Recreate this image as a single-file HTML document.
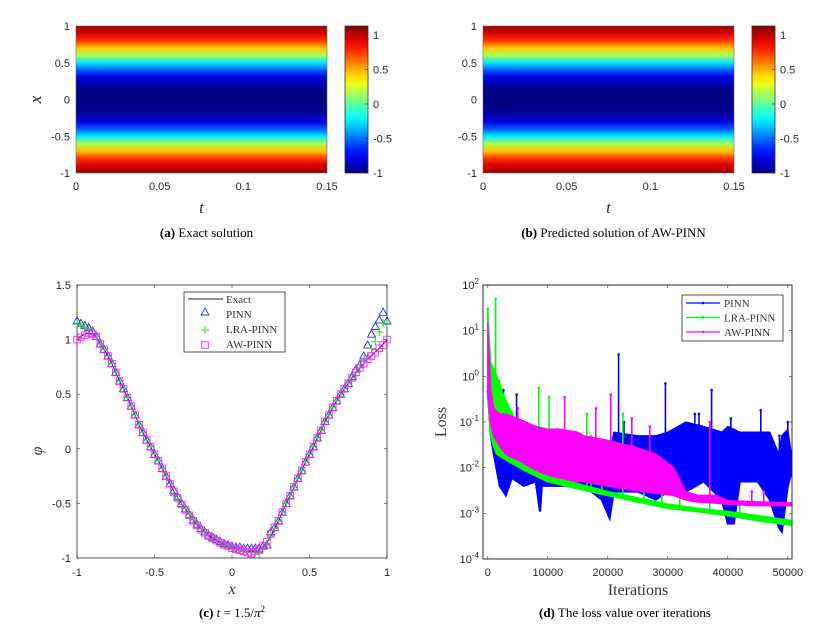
<!DOCTYPE html>
<html><head><meta charset="utf-8"><style>
html,body{margin:0;padding:0;background:#fff;}
svg{display:block;font-family:"Liberation Sans",sans-serif;}
.tk{font-size:11px;fill:#262626;}
.cap{font-family:"Liberation Serif",serif;font-size:13px;fill:#000;}
.lab{font-family:"Liberation Serif",serif;font-style:italic;fill:#333;}
.leg{font-family:"Liberation Serif",serif;font-size:11px;fill:#333;}
</style></head><body>
<svg id="fig" width="822" height="625" viewBox="0 0 822 625" xmlns="http://www.w3.org/2000/svg">
<defs id="defs"></defs>
</svg>
<script>
// ---------- data: heatmaps (a),(b) ----------
const heatX = [-1,-0.9,-0.8,-0.7,-0.6,-0.5,-0.4,-0.3,-0.2,-0.1,0,0.1,0.2,0.3,0.4,0.5,0.6,0.7,0.8,0.9,1];
const heatExact = [1.08,0.95,0.75,0.45,0.15,-0.25,-0.55,-0.8,-0.92,-0.98,-1.0,-0.98,-0.92,-0.8,-0.55,-0.25,0.15,0.45,0.75,0.95,1.08];
const heatPred  = [1.08,0.95,0.75,0.45,0.15,-0.25,-0.55,-0.8,-0.92,-0.98,-1.0,-0.98,-0.92,-0.8,-0.55,-0.25,0.15,0.45,0.75,0.95,1.08];
const tTicks = [0,0.05,0.1,0.15];
const tTickLabels = ["0","0.05","0.1","0.15"];
const xTicks = [-1,-0.5,0,0.5,1];
const xTickLabels = ["-1","-0.5","0","0.5","1"];
const cbTicks = [-1,-0.5,0,0.5,1];
const cbTickLabels = ["-1","-0.5","0","0.5","1"];

// ---------- data: panel (c) ----------
const cX = [-1,-0.975,-0.95,-0.925,-0.9,-0.875,-0.85,-0.825,-0.8,-0.775,-0.75,-0.725,-0.7,-0.675,-0.65,-0.625,-0.6,-0.575,-0.55,-0.525,-0.5,-0.475,-0.45,-0.425,-0.4,-0.375,-0.35,-0.325,-0.3,-0.275,-0.25,-0.225,-0.2,-0.175,-0.15,-0.125,-0.1,-0.075,-0.05,-0.025,0,0.025,0.05,0.075,0.1,0.125,0.15,0.175,0.2,0.225,0.25,0.275,0.3,0.325,0.35,0.375,0.4,0.425,0.45,0.475,0.5,0.525,0.55,0.575,0.6,0.625,0.65,0.675,0.7,0.725,0.75,0.775,0.8,0.825,0.85,0.875,0.9,0.925,0.95,0.975,1];
const exactY = [1.0,1.03,1.05,1.06,1.05,1.02,0.96,0.91,0.85,0.78,0.70,0.62,0.55,0.47,0.39,0.31,0.22,0.15,0.08,0.02,-0.05,-0.11,-0.18,-0.25,-0.32,-0.39,-0.45,-0.50,-0.55,-0.60,-0.65,-0.69,-0.73,-0.76,-0.79,-0.82,-0.84,-0.86,-0.88,-0.89,-0.90,-0.91,-0.92,-0.93,-0.94,-0.94,-0.94,-0.93,-0.90,-0.86,-0.80,-0.73,-0.66,-0.58,-0.50,-0.43,-0.35,-0.27,-0.20,-0.12,-0.05,0.02,0.10,0.17,0.25,0.31,0.38,0.44,0.50,0.55,0.60,0.65,0.70,0.74,0.78,0.82,0.85,0.89,0.92,0.96,1.0];
const pinnY = [1.17,1.15,1.13,1.11,1.08,1.03,0.96,0.91,0.85,0.78,0.70,0.62,0.55,0.47,0.39,0.31,0.22,0.15,0.08,0.02,-0.05,-0.11,-0.18,-0.25,-0.32,-0.38,-0.44,-0.50,-0.55,-0.60,-0.65,-0.69,-0.73,-0.76,-0.79,-0.81,-0.83,-0.85,-0.87,-0.88,-0.89,-0.90,-0.90,-0.91,-0.91,-0.91,-0.91,-0.91,-0.89,-0.88,-0.76,-0.72,-0.66,-0.58,-0.50,-0.43,-0.35,-0.27,-0.20,-0.12,-0.05,0.02,0.10,0.17,0.25,0.31,0.38,0.44,0.50,0.55,0.60,0.66,0.73,0.77,0.85,0.95,1.05,1.12,1.18,1.25,1.17];
const lraY = [1.15,1.13,1.11,1.10,1.08,1.03,0.96,0.91,0.85,0.78,0.70,0.62,0.55,0.47,0.39,0.31,0.22,0.15,0.08,0.02,-0.05,-0.11,-0.18,-0.25,-0.32,-0.43,-0.46,-0.51,-0.55,-0.60,-0.65,-0.69,-0.73,-0.76,-0.79,-0.82,-0.84,-0.86,-0.88,-0.89,-0.90,-0.92,-0.93,-0.94,-0.95,-0.95,-0.95,-0.96,-0.92,-0.87,-0.80,-0.73,-0.66,-0.58,-0.50,-0.43,-0.35,-0.27,-0.20,-0.12,-0.05,0.02,0.10,0.17,0.25,0.31,0.38,0.44,0.50,0.55,0.60,0.65,0.67,0.74,0.80,0.85,0.92,0.98,1.07,1.15,1.15];
const awY = [1.0,1.02,1.04,1.06,1.05,1.03,0.96,0.91,0.85,0.78,0.70,0.62,0.55,0.47,0.39,0.31,0.22,0.15,0.08,0.02,-0.05,-0.11,-0.18,-0.25,-0.32,-0.39,-0.45,-0.51,-0.56,-0.61,-0.66,-0.70,-0.74,-0.77,-0.80,-0.82,-0.84,-0.86,-0.88,-0.89,-0.91,-0.92,-0.93,-0.94,-0.95,-0.96,-0.94,-0.92,-0.89,-0.85,-0.78,-0.72,-0.66,-0.58,-0.50,-0.43,-0.35,-0.27,-0.20,-0.12,-0.05,0.02,0.10,0.17,0.25,0.31,0.38,0.44,0.50,0.55,0.60,0.65,0.70,0.74,0.78,0.82,0.85,0.88,0.92,0.95,1.0];
const cYTicks = [-1,-0.5,0,0.5,1,1.5];
const cYTickLabels = ["-1","-0.5","0","0.5","1","1.5"];

// ---------- data: panel (d) ----------
const pinnIt    = [0,500,1000,2000,3000,4000,6000,8000,8700,9000,12000,16000,19000,20300,21000,25000,28000,30000,33000,36000,39000,40000,41000,42000,45000,47000,48500,49000,50000,50600];
const pinnLow   = [0.5,0.05,0.02,0.004,0.0025,0.006,0.004,0.005,0.0011,0.004,0.004,0.004,0.002,0.0008,0.003,0.003,0.002,0.003,0.003,0.005,0.002,0.0006,0.0006,0.005,0.005,0.002,0.0005,0.0004,0.004,0.008];
const pinnHigh  = [0.8,0.3,0.1,0.05,0.03,0.03,0.025,0.02,0.02,0.02,0.02,0.02,0.02,0.02,0.06,0.05,0.05,0.06,0.1,0.08,0.06,0.08,0.07,0.06,0.06,0.06,0.02,0.05,0.07,0.02];
const pinnSpikeIt  = [2600,4800,21800,22700,29600,34500,35200,37300,40500,45500,48600,50000];
const pinnSpikeVal = [0.5,0.4,3,0.1,0.7,0.15,0.15,0.5,0.12,0.18,0.05,0.1];
const lraIt     = [0,500,1000,1500,3000,6000,10000,15000,20000,25000,30000,35000,40000,45000,50600];
const lraLow    = [0.6,0.05,0.03,0.02,0.015,0.009,0.005,0.0035,0.0025,0.0018,0.0013,0.0011,0.0009,0.0007,0.00055];
const lraHigh   = [30,2,1.5,1,0.3,0.05,0.007,0.0045,0.003,0.0022,0.0016,0.0013,0.0011,0.0009,0.0007];
const lraSpikeIt  = [0,1300,1900,8500,10200,16500,17200,19000,22500,26000,29000,32000,37000,42000];
const lraSpikeVal = [30,50,0.8,0.55,0.35,0.15,0.05,0.02,0.15,0.01,0.006,0.005,0.0025,0.0015];
const awIt      = [0,300,500,1000,2000,3000,5000,8000,10000,12000,15000,16000,20000,24000,28000,31000,33000,35000,38000,40000,45000,50600];
const awLow     = [0.5,0.2,0.1,0.05,0.03,0.02,0.015,0.009,0.007,0.006,0.005,0.005,0.004,0.0033,0.0028,0.0025,0.002,0.0018,0.0017,0.0016,0.0015,0.0015];
const awHigh    = [15,2,0.5,0.2,0.15,0.15,0.12,0.08,0.07,0.07,0.06,0.05,0.04,0.03,0.02,0.01,0.003,0.0025,0.0025,0.0019,0.0018,0.0017];
const awSpikeIt  = [5000,12800,18000,20500,24000,27000,37000,44000,46000];
const awSpikeVal = [0.2,0.35,0.2,0.4,0.12,0.08,0.1,0.003,0.003];
const dXTicks = [0,10000,20000,30000,40000,50000];
const dXTickLabels = ["0","10000","20000","30000","40000","50000"];
const dYExp = [-4,-3,-2,-1,0,1,2];

// ---------- helpers ----------
const NS = "http://www.w3.org/2000/svg";
const svg = document.getElementById("fig");
const defs = document.getElementById("defs");
function mk(tag, attrs, parent) {
  const e = document.createElementNS(NS, tag);
  for (const k in attrs) e.setAttribute(k, attrs[k]);
  (parent || svg).appendChild(e);
  return e;
}
function jet(v) {
  const c = x => Math.max(0, Math.min(1, x));
  const r = c(1.5 - Math.abs(4*v - 3)), g = c(1.5 - Math.abs(4*v - 2)), b = c(1.5 - Math.abs(4*v - 1));
  return "rgb(" + Math.round(r*255) + "," + Math.round(g*255) + "," + Math.round(b*255) + ")";
}
const CMIN = -1, CMAX = 1.13;
const cnorm = v => (v - CMIN) / (CMAX - CMIN);
const AX = "#262626";

// ---------- panels (a),(b) ----------
function heatPanel(ox, vals, idx, cap, capBold) {
  const L = 76 + ox, R = 327 + ox, T = 26, B = 173;
  const sx = t => L + (t - 0) / 0.15 * (R - L);
  const sy = x => B - (x + 1) / 2 * (B - T);
  const g = mk("g", {});
  
  
  const gid = "hg" + idx;
  const lg = mk("linearGradient", {id: gid, x1: 0, y1: 0, x2: 0, y2: 1}, defs);
  for (let i = heatX.length - 1; i >= 0; i--) {
    mk("stop", {offset: ((1 - heatX[i]) / 2).toFixed(4), "stop-color": jet(cnorm(vals[i]))}, lg);
  }
  const r = mk("rect", {x: L, y: T, width: R - L, height: B - T, fill: "url(#" + gid + ")"}, g);
  
  
  mk("rect", {x: L, y: T, width: R - L, height: B - T, fill: "none", stroke: "#666", "stroke-width": 0.6}, g);
  tTicks.forEach((t, i) => {
    const lab = mk("text", {x: sx(t), y: 190, "text-anchor": "middle", class: "tk"}, g);
    lab.textContent = tTickLabels[i];
    
    
  });
  xTicks.forEach((v, i) => {
    const lab = mk("text", {x: L - 6, y: sy(v) + 4, "text-anchor": "end", class: "tk"}, g);
    lab.textContent = xTickLabels[i];
    
    
  });
  const xl = mk("text", {x: sx(0.075), y: 213, "text-anchor": "middle", class: "lab", "font-size": 17}, g);
  xl.textContent = "t";
  
  
  const yl = mk("text", {x: 0, y: 0, "text-anchor": "middle", class: "lab", "font-size": 17, transform: "translate(41," + sy(0) + ") rotate(-90)"}, g);
  yl.textContent = "x";
  
  
  const CL = 345 + ox, CR = 368 + ox;
  const cy = v => B - (v - CMIN) / (CMAX - CMIN) * (B - T);
  const cg = mk("linearGradient", {id: "cb" + idx, x1: 0, y1: 0, x2: 0, y2: 1}, defs);
  for (let k = 0; k <= 20; k++) mk("stop", {offset: k / 20, "stop-color": jet(1 - k / 20)}, cg);
  const cb = mk("rect", {x: CL, y: T, width: CR - CL, height: B - T, fill: "url(#cb" + idx + ")", stroke: "#333", "stroke-width": 0.8}, g);
  
  
  cbTicks.forEach((v, i) => {
    mk("line", {x1: CR - 3, x2: CR, y1: cy(v), y2: cy(v), stroke: "#333", "stroke-width": 0.6}, g);
    const lab = mk("text", {x: CR + 5, y: cy(v) + 4, class: "tk"}, g);
    lab.textContent = cbTickLabels[i];
    
    
  });
  const c = mk("text", {x: (L + R) / 2 + 5, y: 237, "text-anchor": "middle", class: "cap"}, g);
  c.innerHTML = '<tspan font-weight="bold">' + capBold + '</tspan> ' + cap;
  
  
}
heatPanel(0, heatExact, "a", "Exact solution", "(a)");
heatPanel(407, heatPred, "b", "Predicted solution of AW-PINN", "(b)");

// ---------- panel (c) ----------
(function () {
  const L = 77, R = 387, T = 285, B = 558;
  const sx = x => L + (x + 1) / 2 * (R - L);
  const sy = y => B - (y + 1) / 2.5 * (B - T);
  const g = mk("g", {});
  
  
  mk("rect", {x: L, y: T, width: R - L, height: B - T, fill: "#fff", stroke: AX, "stroke-width": 0.8}, g);
  xTicks.forEach((v, i) => {
    mk("line", {x1: sx(v), x2: sx(v), y1: B, y2: B - 3, stroke: AX, "stroke-width": 0.6}, g);
    mk("line", {x1: sx(v), x2: sx(v), y1: T, y2: T + 3, stroke: AX, "stroke-width": 0.6}, g);
    const lab = mk("text", {x: sx(v), y: 576, "text-anchor": "middle", class: "tk"}, g);
    lab.textContent = xTickLabels[i];
    
    
  });
  cYTicks.forEach((v, i) => {
    mk("line", {x1: L, x2: L + 3, y1: sy(v), y2: sy(v), stroke: AX, "stroke-width": 0.6}, g);
    mk("line", {x1: R, x2: R - 3, y1: sy(v), y2: sy(v), stroke: AX, "stroke-width": 0.6}, g);
    const lab = mk("text", {x: L - 6, y: sy(v) + 4, "text-anchor": "end", class: "tk"}, g);
    lab.textContent = cYTickLabels[i];
    
    
  });
  const line = mk("polyline", {points: cX.map((x, i) => sx(x).toFixed(1) + "," + sy(exactY[i]).toFixed(1)).join(" "), fill: "none", stroke: "#222", "stroke-width": 1}, g);
  
  
  cX.forEach((x, i) => {
    const px = sx(x), py = sy(pinnY[i]);
    const t = mk("polygon", {points: (px) + "," + (py - 4) + " " + (px - 4) + "," + (py + 3) + " " + (px + 4) + "," + (py + 3), fill: "none", stroke: "#2a2aff", "stroke-width": 0.9}, g);
    
    
  });
  cX.forEach((x, i) => {
    const px = sx(x), py = sy(lraY[i]);
    const p = mk("path", {d: "M" + (px - 4) + "," + py + "h8M" + px + "," + (py - 4) + "v8", stroke: "#22dd22", "stroke-width": 1}, g);
    
    
  });
  cX.forEach((x, i) => {
    const px = sx(x), py = sy(awY[i]);
    const s = mk("rect", {x: px - 3.3, y: py - 3.3, width: 6.6, height: 6.6, fill: "none", stroke: "#ff22ff", "stroke-width": 0.9}, g);
    
    
  });
  const lg = mk("g", {}, g);
  
  
  mk("rect", {x: 184, y: 292, width: 101, height: 60, fill: "#fff", stroke: AX, "stroke-width": 0.8}, lg);
  mk("line", {x1: 188, x2: 223, y1: 299, y2: 299, stroke: "#222", "stroke-width": 1}, lg);
  mk("polygon", {points: "205,308 201,315 209,315", fill: "none", stroke: "#2a2aff", "stroke-width": 0.9}, lg);
  mk("path", {d: "M201,330h8M205,326v8", stroke: "#22dd22", "stroke-width": 1}, lg);
  mk("rect", {x: 201.7, y: 341.7, width: 6.6, height: 6.6, fill: "none", stroke: "#ff22ff", "stroke-width": 0.9}, lg);
  ["Exact", "PINN", "LRA-PINN", "AW-PINN"].forEach((n, i) => {
    const t = mk("text", {x: 226, y: 303 + i * 15, class: "leg"}, lg);
    t.textContent = n;
    
    
  });
  const xl = mk("text", {x: 232, y: 594, "text-anchor": "middle", class: "lab", "font-size": 16}, g);
  xl.textContent = "x";
  
  
  const yl = mk("text", {x: 0, y: 0, "text-anchor": "middle", class: "lab", "font-size": 16, transform: "translate(42,451) rotate(-90)"}, g);
  yl.textContent = "φ";
  
  
  const c = mk("text", {x: 232, y: 617, "text-anchor": "middle", class: "cap"}, g);
  c.innerHTML = '<tspan font-weight="bold">(c)</tspan> <tspan font-style="italic">t</tspan> = 1.5/<tspan font-style="italic">π</tspan><tspan font-size="9" dy="-5">2</tspan>';
  
  
})();

// ---------- panel (d) ----------
(function () {
  const L = 483, R = 792, T = 285, B = 559;
  const XMIN = -800, XMAX = 50700;
  const sx = x => L + (x - XMIN) / (XMAX - XMIN) * (R - L);
  const sy = v => B - (Math.log10(v) + 4) / 6 * (B - T);
  const g = mk("g", {});
  
  
  mk("rect", {x: L, y: T, width: R - L, height: B - T, fill: "#fff", stroke: AX, "stroke-width": 0.8}, g);
  const cp = mk("clipPath", {id: "dclip"}, defs);
  mk("rect", {x: L, y: T, width: R - L, height: B - T}, cp);
  const plot = mk("g", {"clip-path": "url(#dclip)"}, g);
  function series(name, col, it, lo, hi, sIt, sVal) {
    const sg = mk("g", {}, plot);
    
    
    const pts = it.map((x, i) => sx(x).toFixed(1) + "," + sy(hi[i]).toFixed(1))
      .concat(it.map((x, i) => sx(x).toFixed(1) + "," + sy(lo[i]).toFixed(1)).reverse());
    const band = mk("polygon", {points: pts.join(" "), fill: col, stroke: col, "stroke-width": 1.2, "stroke-linejoin": "round"}, sg);
    
    
    const lowLine = mk("polyline", {points: it.map((x, i) => sx(x).toFixed(1) + "," + sy(lo[i]).toFixed(1)).join(" "), fill: "none", stroke: col, "stroke-width": 2.2}, sg);
    
    
    sIt.forEach((x, i) => {
      let j = 0; while (j < it.length - 2 && it[j + 1] < x) j++;
      const f = Math.max(0, Math.min(1, (x - it[j]) / (it[j + 1] - it[j])));
      const base = Math.pow(10, Math.log10(lo[j]) * (1 - f) + Math.log10(lo[j + 1]) * f);
      const sp = mk("line", {x1: sx(x), x2: sx(x), y1: sy(base), y2: sy(sVal[i]), stroke: col, "stroke-width": 1.6}, sg);
      
      
      mk("circle", {cx: sx(x), cy: sy(sVal[i]), r: 1.3, fill: col}, sg);
    });
  }
  series("pinn", "#0000ff", pinnIt, pinnLow, pinnHigh, pinnSpikeIt, pinnSpikeVal);
  series("lra-pinn", "#00ff00", lraIt, lraLow, lraHigh, lraSpikeIt, lraSpikeVal);
  series("aw-pinn", "#ff00ff", awIt, awLow, awHigh, awSpikeIt, awSpikeVal);
  dXTicks.forEach((v, i) => {
    mk("line", {x1: sx(v), x2: sx(v), y1: B, y2: B - 3, stroke: AX, "stroke-width": 0.6}, g);
    mk("line", {x1: sx(v), x2: sx(v), y1: T, y2: T + 3, stroke: AX, "stroke-width": 0.6}, g);
    const lab = mk("text", {x: sx(v), y: 576, "text-anchor": "middle", class: "tk"}, g);
    lab.textContent = dXTickLabels[i];
    
    
  });
  dYExp.forEach(e => {
    const y = sy(Math.pow(10, e));
    mk("line", {x1: L, x2: L + 3, y1: y, y2: y, stroke: AX, "stroke-width": 0.6}, g);
    mk("line", {x1: R, x2: R - 3, y1: y, y2: y, stroke: AX, "stroke-width": 0.6}, g);
    const lab = mk("text", {x: L - 4, y: y + 4, "text-anchor": "end", class: "tk"}, g);
    lab.innerHTML = '10<tspan font-size="8" dy="-5">' + e + '</tspan>';
    
    
  });
  mk("rect", {x: L, y: T, width: R - L, height: B - T, fill: "none", stroke: AX, "stroke-width": 0.8}, g);
  const lg = mk("g", {}, g);
  
  
  mk("rect", {x: 682, y: 295, width: 101, height: 46, fill: "#fff", stroke: AX, "stroke-width": 0.8}, lg);
  [["PINN", "#0000ff"], ["LRA-PINN", "#00ff00"], ["AW-PINN", "#ff00ff"]].forEach((p, i) => {
    const y = 303 + i * 14.5;
    mk("line", {x1: 686, x2: 720, y1: y, y2: y, stroke: p[1], "stroke-width": 1.2}, lg);
    mk("circle", {cx: 703, cy: y, r: 1.3, fill: p[1]}, lg);
    const t = mk("text", {x: 724, y: y + 4, class: "leg"}, lg);
    t.textContent = p[0];
    
    
  });
  const xl = mk("text", {x: 638, y: 595, "text-anchor": "middle", "font-family": "Liberation Serif, serif", "font-size": 16, fill: "#333"}, g);
  xl.textContent = "Iterations";
  
  
  const yl = mk("text", {x: 0, y: 0, "text-anchor": "middle", "font-family": "Liberation Serif, serif", "font-size": 16, fill: "#333", transform: "translate(446,422) rotate(-90)"}, g);
  yl.textContent = "Loss";
  
  
  const c = mk("text", {x: 625, y: 617, "text-anchor": "middle", class: "cap"}, g);
  c.innerHTML = '<tspan font-weight="bold">(d)</tspan> The loss value over iterations';
  
  
})();
</script>
</body></html>
